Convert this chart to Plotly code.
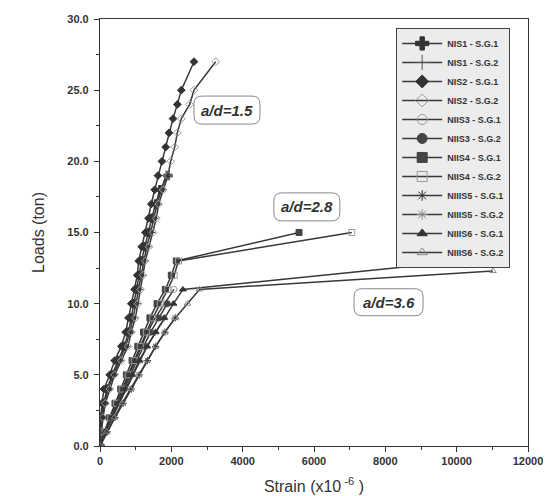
import plotly.graph_objects as go

# ---- data ----
names = ["NIS1 - S.G.1", "NIS1 - S.G.2", "NIS2 - S.G.1", "NIS2 - S.G.2",
         "NIIS3 - S.G.1", "NIIS3 - S.G.2", "NIIS4 - S.G.1", "NIIS4 - S.G.2",
         "NIIIS5 - S.G.1", "NIIIS5 - S.G.2", "NIIIS6 - S.G.1", "NIIIS6 - S.G.2"]

nis1_sg1_strain = [0, 10, 40, 100, 200, 340, 500, 680, 800, 880, 950, 1030, 1100, 1160, 1250, 1360, 1450, 1560, 1680, 1906]
nis1_sg1_load = list(range(0, 20))
nis1_sg2_strain = [0, 20, 60, 120, 230, 370, 540, 720, 840, 930, 1010, 1080, 1150, 1220, 1310, 1420, 1510, 1600, 1720, 1850]
nis1_sg2_load = list(range(0, 20))
nis2_sg1_strain = [0, 5, 20, 56, 112, 272, 412, 597, 720, 800, 878, 971, 1046, 1085, 1170, 1275, 1360, 1439, 1533, 1626, 1738, 1841, 1934, 2047, 2168, 2280, 2635]
nis2_sg1_load = list(range(0, 26)) + [27]
nis2_sg2_strain = [0, 37, 84, 150, 272, 410, 597, 785, 878, 990, 1065, 1140, 1205, 1270, 1373, 1485, 1578, 1644, 1766, 1906, 1980, 2093, 2168, 2280, 2513, 2635, 3243]
nis2_sg2_load = list(range(0, 26)) + [27]

niis3_sg1_strain = [0, 130, 300, 470, 640, 800, 980, 1150, 1330, 1550, 1800, 2073]
niis3_sg1_load = list(range(0, 12))
niis3_sg2_strain = [0, 150, 330, 500, 680, 860, 1030, 1220, 1420, 1650, 1887]
niis3_sg2_load = list(range(0, 11))
niis4_sg1_strain = [0, 120, 270, 420, 580, 740, 900, 1060, 1220, 1400, 1600, 1832, 2000, 2139, 5580]
niis4_sg1_load = list(range(0, 14)) + [15]
niis4_sg2_strain = [0, 140, 300, 460, 620, 790, 960, 1130, 1300, 1480, 1690, 1900, 2080, 2200, 7060]
niis4_sg2_load = list(range(0, 14)) + [15]

niiis5_sg1_strain = [0, 200, 420, 650, 880, 1100, 1330, 1560, 1820, 2110]
niiis5_sg1_load = list(range(0, 10))
niiis5_sg2_strain = [0, 160, 350, 540, 730, 920, 1120, 1320, 1560, 1813]
niiis5_sg2_load = list(range(0, 10))
niiis6_sg1_strain = [0, 150, 330, 520, 710, 900, 1100, 1320, 1560, 1800, 2060, 2325, 10600]
niiis6_sg1_load = list(range(0, 12)) + [13.1]
niiis6_sg2_strain = [0, 190, 400, 620, 850, 1080, 1320, 1560, 1820, 2110, 2450, 2792, 11017]
niiis6_sg2_load = list(range(0, 12)) + [12.3]

x_tickvals = [0, 2000, 4000, 6000, 8000, 10000, 12000]
x_ticktext = ["0", "2000", "4000", "6000", "8000", "10000", "12000"]
y_tickvals = [0, 5, 10, 15, 20, 25, 30]
y_ticktext = ["0.0", "5.0", "10.0", "15.0", "20.0", "25.0", "30.0"]

label_texts = ["a/d=1.5", "a/d=2.8", "a/d=3.6"]

series = [
    (nis1_sg1_strain, nis1_sg1_load), (nis1_sg2_strain, nis1_sg2_load),
    (nis2_sg1_strain, nis2_sg1_load), (nis2_sg2_strain, nis2_sg2_load),
    (niis3_sg1_strain, niis3_sg1_load), (niis3_sg2_strain, niis3_sg2_load),
    (niis4_sg1_strain, niis4_sg1_load), (niis4_sg2_strain, niis4_sg2_load),
    (niiis5_sg1_strain, niiis5_sg1_load), (niiis5_sg2_strain, niiis5_sg2_load),
    (niiis6_sg1_strain, niiis6_sg1_load), (niiis6_sg2_strain, niiis6_sg2_load),
]

# symbol, marker colour, size on curve, size in legend
styles = [
    ("cross", "#333333", 7, 11), ("cross-thin-open", "#555555", 7, 11),
    ("diamond", "#333333", 6, 10), ("diamond-open", "#999999", 6, 10),
    ("circle-open", "#999999", 6, 10), ("circle", "#444444", 6, 10),
    ("square", "#444444", 6, 10), ("square-open", "#999999", 6, 10),
    ("asterisk-open", "#333333", 6, 9), ("asterisk-open", "#888888", 6, 9),
    ("triangle-up", "#333333", 6, 9), ("triangle-up-open", "#888888", 6, 9),
]

fig = go.Figure()
for (xs, ys), name, (sym, mc, ms, ls) in zip(series, names, styles):
    fig.add_trace(go.Scatter(
        x=xs, y=ys, name=name, mode="lines+markers", showlegend=False,
        line=dict(color="#383838", width=1.5),
        marker=dict(symbol=sym, color=mc, size=ms, line=dict(color=mc, width=1)),
    ))
# legend entries (same series, larger legend glyphs)
for name, (sym, mc, ms, ls) in zip(names, styles):
    fig.add_trace(go.Scatter(
        x=[None], y=[None], name="<b>" + name + "</b>", mode="lines+markers",
        line=dict(color="#383838", width=1.5),
        marker=dict(symbol=sym, color=mc, size=ls, line=dict(color=mc, width=1)),
    ))

# rounded label boxes (placement in data units; px -> data conversion)
PX_X = 12000 / 428.0   # strain per pixel
PX_Y = 30 / 427.0      # ton per pixel


def rounded_box(cx, cy, wpx, hpx, rpx):
    hw, hh = wpx / 2 * PX_X, hpx / 2 * PX_Y
    rx, ry = rpx * PX_X, rpx * PX_Y
    x0, x1, y0, y1 = cx - hw, cx + hw, cy - hh, cy + hh
    return (f"M {x0 + rx},{y0} L {x1 - rx},{y0} Q {x1},{y0} {x1},{y0 + ry} "
            f"L {x1},{y1 - ry} Q {x1},{y1} {x1 - rx},{y1} "
            f"L {x0 + rx},{y1} Q {x0},{y1} {x0},{y1 - ry} "
            f"L {x0},{y0 + ry} Q {x0},{y0} {x0 + rx},{y0} Z")


label_pos = [(3560, 23.6, 66, 28), (5800, 16.8, 66, 28), (8090, 10.1, 69, 27)]
ann_font = dict(family="Arial, Liberation Sans", size=15, color="#333333")
for txt, (cx, cy, w, h) in zip(label_texts, label_pos):
    fig.add_shape(type="path", path=rounded_box(cx, cy, w, h, 8), xref="x", yref="y",
                  line=dict(color="#888888", width=1), fillcolor="white", layer="above")
    fig.add_annotation(x=cx, y=cy, text="<b><i>" + txt + "</i></b>", showarrow=False,
                       font=ann_font)

fig.update_layout(
    width=551, height=496,
    margin=dict(l=92, r=31, t=11, b=58),
    paper_bgcolor="white", plot_bgcolor="white",
    font=dict(family="Arial, Liberation Sans", color="#333333"),
    showlegend=True,
    legend=dict(x=0.692, y=0.979, xanchor="left", yanchor="top",
                bgcolor="#ececec", bordercolor="#444444", borderwidth=1,
                font=dict(family="Arial, Liberation Sans", size=9, color="#333333"),
                itemwidth=40, tracegroupgap=0),
)
fig.update_xaxes(range=[0, 12000], tickvals=x_tickvals, ticktext=x_ticktext, automargin=False,
                 ticks="outside", ticklen=5, tickcolor="#333", showline=True, linecolor="#333",
                 linewidth=1.2, mirror=True, showgrid=False, zeroline=False,
                 tickfont=dict(size=11, family="Arial, Liberation Sans", color="#333", weight="bold"),
                 minor=dict(dtick=1000, ticks="outside", ticklen=3, tickcolor="#333"),
                 title=dict(text="Strain (x10<sup> -6</sup> )", font=dict(size=16, color="#333"), standoff=14))
fig.update_yaxes(range=[0, 30], tickvals=y_tickvals, ticktext=y_ticktext, automargin=False,
                 ticks="outside", ticklen=5, tickcolor="#333", showline=True, linecolor="#333",
                 linewidth=1.2, mirror=True, showgrid=False, zeroline=False,
                 ticklabelstandoff=3,
                 tickfont=dict(size=11, family="Arial, Liberation Sans", color="#333", weight="bold"),
                 minor=dict(dtick=2.5, ticks="outside", ticklen=3, tickcolor="#333"),
                 title=dict(text="Loads (ton)", font=dict(size=16, color="#333"), standoff=18))

fig.write_html("out.html")
